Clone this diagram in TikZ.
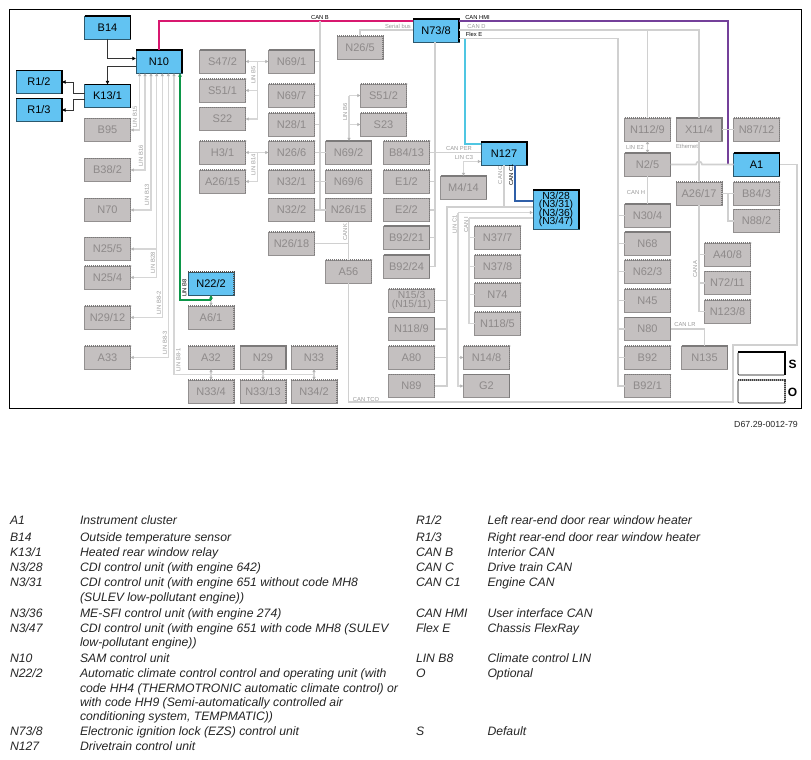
\documentclass[tikz,border=0pt]{standalone}
\usepackage{fontspec}
\setmainfont{Liberation Sans}
\usetikzlibrary{arrows.meta,calc}
\definecolor{gfill}{HTML}{C4C0C0}
\definecolor{gtext}{HTML}{8E8A8A}
\definecolor{gedge}{HTML}{7C7A7A}
\definecolor{bfill}{HTML}{62C3F2}
\definecolor{busc}{HTML}{D0D0D0}
\definecolor{linc}{HTML}{D6D6D6}
\definecolor{tipc}{HTML}{B4B4B4}
\definecolor{canb}{HTML}{D8186F}
\definecolor{canhmi}{HTML}{74409A}
\definecolor{flexe}{HTML}{4FC6E2}
\definecolor{canci}{HTML}{2F5FA8}
\definecolor{linb}{HTML}{0C9648}
\definecolor{labg}{HTML}{9A9A9A}
\newcommand{\tightlines}{\lineskiplimit=-20pt\relax\lineskip=0pt\relax}
\tikzset{
  unit/.style={minimum width=46pt,minimum height=23pt,inner sep=0pt,outer sep=0pt,align=center,font=\fontsize{11}{8.3}\selectfont},
  gbox/.style={unit,fill=gfill,draw=gfill!75!black,line width=.6pt,text=gtext},
  bbox/.style={unit,fill=bfill,draw=bfill!45!black,line width=.6pt,text=black},
  tightfont/.style={font=\fontsize{10.3}{8.4}\selectfont,execute at begin node=\tightlines},
  dotedge/.style={gedge,line width=1.1pt,dash pattern=on 1.2pt off .8pt},
  solidedge/.style={gedge,line width=1.3pt},
  blackedge/.style={black,line width=1.5pt},
  bus/.style={busc,line width=1.7pt},
  lin/.style={linc,line width=1.4pt},
  lintip/.style={lin,-{Latex[length=3.2pt,width=3.6pt,color=tipc]}},
  lintwo/.style={lin,{Latex[length=3.2pt,width=3.6pt,color=tipc]}-{Latex[length=3.2pt,width=3.6pt,color=tipc]}},
  ctl/.style={black!80,line width=1pt},
  ctltip/.style={ctl,-{Latex[length=3.6pt,width=4pt,color=black]}},
  lab/.style={font=\fontsize{5.8}{6}\selectfont,inner sep=0pt,outer sep=0pt},
  legendtext/.style={font=\fontsize{12.2}{12}\selectfont\itshape,anchor=base west,inner sep=0pt,outer sep=0pt,text=black!85}
}
\newcounter{lbc}
\newcommand{\gb}[4]{\node[gbox] (#1) at (#2,#3) {#4};
  \draw[dotedge] (#1.north west) -- (#1.north east) -- (#1.south east);}
\newcommand{\gs}[4]{\node[gbox] (#1) at (#2,#3) {#4};
  \draw[solidedge] (#1.north west) -- (#1.north east) -- (#1.south east);}
\newcommand{\bb}[4]{\node[bbox] (#1) at (#2,#3) {#4};
  \draw[blackedge] (#1.north west) -- (#1.north east) -- (#1.south east);}
\newcommand{\lb}[5][0]{\stepcounter{lbc}\node[lab,text=#2,rotate=#1] (lb\arabic{lbc}) at (#3,#4) {#5};}
\newcommand{\lgd}[3]{\stepcounter{lbc}\node[legendtext] (lb\arabic{lbc}) at (#1,#2) {#3};}
\begin{document}
\begin{tikzpicture}[x=1pt,y=-1pt]
\useasboundingbox (0,0) rectangle (811,760);
\fill[white] (0,0) rectangle (811,760);
\node[draw=black,line width=1pt,minimum width=791.5pt,minimum height=398.5pt,inner sep=0pt,outer sep=0pt] (frame) at (405.25,208.75) {};

% active units
\bb{B14}{107.5}{27.5}{B14}
\bb{N10}{159}{61.5}{N10}
\bb{K131}{107.5}{96}{K13/1}
\bb{R12}{39}{82}{R1/2}
\bb{R13}{39}{110}{R1/3}
\node[bbox] (N222) at (211,283.5) {N22/2};
\draw[black!70,line width=1.2pt,dash pattern=on 1.2pt off .8pt] (N222.north west) -- (N222.north east) -- (N222.south east);
\bb{N738}{436}{30.5}{N73/8}
\bb{N127}{504}{153.5}{N127}
\node[bbox,minimum height=39pt,tightfont] (N328) at (556,209.5) {N3/28\\(N3/31)\\(N3/36)\\(N3/47)};
\draw[blackedge] (N328.north west) -- (N328.north east) -- (N328.south east);
\bb{A1}{756.5}{164.5}{A1}

% inactive units
\gb{B95}{107.5}{130}{B95}
\gb{B382}{107.5}{170}{B38/2}
\gb{N70}{107.5}{210}{N70}
\gb{N255}{107.5}{249}{N25/5}
\gb{N254}{107.5}{277.5}{N25/4}
\gb{N2912}{107.5}{317.5}{N29/12}
\gb{A33}{107.5}{357.5}{A33}
\gb{A61}{211}{317.5}{A6/1}
\gb{A32}{211}{357.5}{A32}
\gb{N334}{211}{391.5}{N33/4}
\gs{N29}{263}{357.5}{N29}
\gb{N3313}{263}{391.5}{N33/13}
\gb{N33}{314}{357.5}{N33}
\gb{N342}{314}{391.5}{N34/2}
\gs{S472}{222.5}{61.5}{S47/2}
\gb{S511}{222.5}{90.5}{S51/1}
\gb{S22}{222.5}{119}{S22}
\gb{H31}{222.5}{152.5}{H3/1}
\gb{A2615}{222.5}{181.5}{A26/15}
\gs{N691}{291.5}{61.5}{N69/1}
\gb{N697}{291.5}{95.5}{N69/7}
\gb{N281}{291.5}{124.5}{N28/1}
\gb{N266}{291.5}{152.5}{N26/6}
\gb{N321}{291.5}{181.5}{N32/1}
\gb{N322}{291.5}{210}{N32/2}
\gb{N2618}{291.5}{243.5}{N26/18}
\gs{N692}{348.5}{152.5}{N69/2}
\gb{N696}{348.5}{181.5}{N69/6}
\gb{N2615}{348.5}{210}{N26/15}
\gb{A56}{348.5}{271.5}{A56}
\gb{N265}{360}{47.5}{N26/5}
\gb{S512}{383.5}{95.5}{S51/2}
\gb{S23}{383.5}{124.5}{S23}
\gb{B8413}{406.5}{152.5}{B84/13}
\gb{E12}{406.5}{181.5}{E1/2}
\gb{E22}{406.5}{210}{E2/2}
\gs{B9221}{406.5}{237.5}{B92/21}
\gs{B9224}{406.5}{266.5}{B92/24}
\gs{M414}{463.5}{187.5}{M4/14}
\node[gbox,tightfont] (N153) at (411.5,300.5) {N15/3\\(N15/11)};
\draw[dotedge] (N153.north west) -- (N153.north east) -- (N153.south east);
\gs{N1189}{411.5}{329}{N118/9}
\gb{A80}{411.5}{357.5}{A80}
\gb{N89}{411.5}{386}{N89}
\gb{N377}{497.5}{237.5}{N37/7}
\gb{N378}{497.5}{266.5}{N37/8}
\gb{N74}{497.5}{294.5}{N74}
\gb{N1185}{497.5}{323.5}{N118/5}
\gb{N148}{486.5}{357.5}{N14/8}
\gs{G2}{486.5}{386}{G2}
\gb{N1129}{647.5}{129.5}{N112/9}
\gs{X114}{699}{129.5}{X11/4}
\gb{N8712}{756.5}{129.5}{N87/12}
\gs{N25}{647.5}{164.5}{N2/5}
\gb{A2617}{699}{193.5}{A26/17}
\gb{B843}{756.5}{193.5}{B84/3}
\gb{N882}{756.5}{221}{N88/2}
\gs{N304}{647.5}{215.5}{N30/4}
\gs{N68}{647.5}{243.5}{N68}
\gb{N623}{647.5}{271.5}{N62/3}
\gb{N45}{647.5}{300.5}{N45}
\gs{N80}{647.5}{329}{N80}
\gb{B92}{647.5}{357.5}{B92}
\gb{B921}{647.5}{386}{B92/1}
\gb{A408}{727.5}{254.5}{A40/8}
\gb{N7211}{727.5}{283}{N72/11}
\gb{N1238}{727.5}{311.5}{N123/8}
\gs{N135}{704.5}{357.5}{N135}

% key boxes
\node[draw=black,line width=.6pt,minimum width=47pt,minimum height=23pt,inner sep=0pt,outer sep=0pt,rounded corners=1pt] (keyS) at (761.5,363.5) {};
\draw[black,line width=1.5pt] (keyS.north west) -- (keyS.north east) -- (keyS.south east);
\node[draw=black,line width=.6pt,minimum width=47pt,minimum height=23pt,inner sep=0pt,outer sep=0pt,rounded corners=1pt] (keyO) at (761.5,391.5) {};
\draw[black!75,line width=1.1pt,dash pattern=on 1.2pt off .8pt] (keyO.north west) -- (keyO.north east) -- (keyO.south east);
\node[font=\fontsize{12}{12}\selectfont\bfseries,inner sep=0pt] (keySt) at (792.5,364.5) {S};
\node[font=\fontsize{12}{12}\selectfont\bfseries,inner sep=0pt] (keyOt) at (792.5,392) {O};

% junction coordinates
\coordinate (busb) at (320,21);
\coordinate (bsh) at (257.5,61.5);
\coordinate (b6) at ($(N692.north)+(0.5,0)$);
\coordinate (busm) at ($(N738.south)+(-1,0)$);
\coordinate (busc) at (447,207);
\coordinate (linc1) at (458,212.5);
\coordinate (cani) at (469,218);
\coordinate (fx) at (618,38.5);
\coordinate (ca) at (699,250);

% LIN buses to N10
\coordinate (n1) at ([xshift=-19.5]N10.south);
\coordinate (n2) at ([xshift=-14]N10.south);
\coordinate (n3) at ([xshift=-8]N10.south);
\coordinate (n4) at ([xshift=-2.3]N10.south);
\coordinate (n5) at ([xshift=3.3]N10.south);
\coordinate (n6) at ([xshift=9.3]N10.south);
\coordinate (n7) at ([xshift=15]N10.south);
\draw[lintwo] (B95.east) -| (n1);
\draw[lintwo] (B382.east) -| (n2);
\draw[lintwo] (N70.east) -| (n3);
\draw[lintwo] (N254.east) -| (n4);
\draw[lintip] (N255.east -| n4) -- (N255.east);
\draw[lintwo] (N2912.east) -| (n5);
\draw[lintwo] (A33.east) -| (n6);
\coordinate (b81) at (174,374.5);
\draw[lintip] (b81) -- (n7);
\draw[lin] (b81) -- (N342.north |- b81);
\draw[lintwo] (A32.south) -- (N334.north);
\draw[lintwo] (N29.south) -- (N3313.north);
\draw[lintwo] (N33.south) -- (N342.north);
\draw[lintwo] (N222.south) -- (A61.north);

% climate LIN
\coordinate (gr) at ($(N222.south)+(0,5)$);
\draw[linb,line width=1.2pt,-{Latex[length=3.6pt,width=4pt,color=linb]}] (gr) -| ([xshift=21]N10.south);
\draw[linb,line width=1.2pt,-{Latex[length=3.6pt,width=4pt,color=linb]}] (gr) -- (N222.south);

% control wires
\draw[ctltip] (B14.south) |- ([yshift=3]N10.west);
\draw[ctltip] ([yshift=-5.5]N10.west) -| (K131.north);
\draw[ctltip] ([yshift=3]K131.west) -- (73,93) |- (R12.east);
\draw[ctltip] ([yshift=-3]K131.west) -- (73,99) |- (R13.east);

% coloured buses
\coordinate (hm) at (728,21);
\draw[canb,line width=1.6pt] (N10.north) |- (N738.west |- busb);
\draw[canhmi,line width=1.6pt] (N738.east |- busb) -- (hm) |- (A1.west);
\coordinate (cy) at (465,144);
\draw[flexe,line width=1.5pt] (N738.east |- fx) -| (cy) -- (N127.west |- cy);
\coordinate (cb) at (515,201);
\draw[canci,line width=1.8pt] ([xshift=11]N127.south) -- (cb) -- (N328.west |- cb);

% CAN B
\draw[bus] (busb) -- (320,210);
\foreach \u in {N691,N697,N281,N266,N321,N322} \draw[bus] (\u.east) -- (\u.east -| busb);
\foreach \u in {N692,N696,N2615} \draw[bus] (\u.west) -- (\u.west -| busb);
% LIN B5, B14, B6
\draw[lintwo] (S472.east) -- (N691.west);
\draw[lintip] (bsh) |- (S22.east);
\draw[lintip] (S511.east -| bsh) -- (S511.east);
\draw[lintwo] (H31.east) -- (N266.west);
\draw[lintip] (H31.east -| bsh) |- (A2615.east);
\draw[lintip] (S512.west -| b6) -- (S512.west);
\draw[lintip] (S23.west -| b6) -- (S23.west);
\draw[lintip] (S512.west -| b6) -- (b6);
% CAN K, TCO
\draw[bus] (N2615.south) -- (A56.north);
\draw[bus] (N2618.east) -- (N2618.east -| A56.north);
\coordinate (tco) at (733,402);
\coordinate (tcr) at (797,345);
\draw[bus] (A56.south) |- (tco) |- (tcr) |- (A1.east);
% serial bus
\coordinate (ser) at (360,30);
\draw[bus] (N265.north) -- (ser) -- (N738.west |- ser);
% N73/8 vertical
\draw[bus] (busm) |- (B9224.east);
\draw[bus] (B8413.east) -- (N127.west |- B8413.east);
\foreach \u in {E12,E22,B9221} \draw[bus] (\u.east) -- (\u.east -| busm);
% LIN C3
\draw[lintwo] (M414.north) |- ([yshift=-8]N127.west);
% CAN C
\draw[bus] (N127.south) -- (N127.south |- busc);
\draw[bus] (N89.east) -| (busc) -- (N328.west |- busc);
\foreach \u in {N153,N1189,A80} \draw[bus] (\u.east) -- (\u.east -| busc);
% LIN C1
\draw[lintip] (linc1) -- (N328.west |- linc1);
\draw[lintip] (linc1) |- (G2.west);
\draw[lintip] (N148.west -| linc1) -- (N148.west);
% CAN I
\draw[lin] (cani) -- (N328.west |- cani);
\draw[lin] (cani) |- (N1185.west);
\foreach \u in {N377,N378,N74} \draw[lin] (\u.west -| cani) -- (\u.west);

% right side
\coordinate (cd) at (699,30);
\draw[bus] (N738.east |- cd) -- (cd) -- (X114.north);
\draw[bus] (N1129.north) -- (N1129.north |- cd);
\draw[bus] (N738.east |- fx) -- (fx) |- (B921.west);
\foreach \u in {N304,N68,N623,N45,N80,B92} \draw[bus] (\u.west -| fx) -- (\u.west);
\draw[lintwo] (N1129.south) -- (N25.north);
\draw[bus] (N25.south) -- (N304.north);
\draw[bus] (N25.east) -- ($(X114.south |- N25.east)+(-3,0)$) arc[start angle=180,end angle=0,radius=3pt] -- (A1.west);
\draw[bus] (X114.south) -- (A2617.north);
\draw[bus] (N8712.west) -- (X114.east);
\draw[bus] (A2617.east) -- (B843.west);
\draw[bus] (hm |- B843.west) |- (N882.west);
\draw[bus] (A2617.south) |- (N1238.west);
\draw[bus] (A408.west -| ca) -- (A408.west);
\draw[bus] (N7211.west -| ca) -- (N7211.west);
\draw[bus] (N80.east) -| (N135.north);

% labels
\lb{black}{320}{17.5}{CAN B}
\lb{labg}{398}{26.3}{Serial bus}
\lb{black}{477.5}{17.5}{CAN HMI}
\lb{labg}{476.5}{26.3}{CAN D}
\lb{black}{474}{34.8}{Flex E}
\lb{labg}{459}{149}{CAN PER}
\lb{labg}{464}{157.5}{LIN C3}
\lb[90]{labg}{500}{175}{CAN C}
\lb[90]{black}{511}{175}{CAN C1}
\lb[90]{labg}{454.5}{224.5}{LIN C1}
\lb[90]{labg}{466}{224.5}{CAN I}
\lb[90]{labg}{253.5}{75}{LIN B5}
\lb[90]{labg}{253.5}{165}{LIN B14}
\lb[90]{labg}{345}{112}{LIN B6}
\lb[90]{labg}{345}{232}{CAN K}
\lb{labg}{366}{399}{CAN TCO}
\lb[90]{labg}{135}{117}{LIN B15}
\lb[90]{labg}{141}{156}{LIN B16}
\lb[90]{labg}{147}{195}{LIN B13}
\lb[90]{labg}{153}{263}{LIN B28}
\lb[90]{labg}{159}{303}{LIN B8-2}
\lb[90]{labg}{165}{343}{LIN B8-3}
\lb[90]{labg}{178.5}{360}{LIN B8-1}
\lb[90]{black}{184.5}{288}{LIN B8}
\lb{labg}{635}{147}{LIN E2}
\lb{labg}{687}{146}{Ethernet}
\lb{labg}{636}{193}{CAN H}
\lb[90]{labg}{695}{269}{CAN A}
\lb{labg}{685}{325}{CAN LR}
\node[font=\fontsize{8.8}{9}\selectfont,inner sep=0pt,text=black!85] (docno) at (766,424.5) {D67.29-0012-79};

% legend
\lgd{10}{524.5}{A1}\lgd{80}{524.5}{Instrument cluster}
\lgd{10}{541}{B14}\lgd{80}{541}{Outside temperature sensor}
\lgd{10}{556.5}{K13/1}\lgd{80}{556.5}{Heated rear window relay}
\lgd{10}{571}{N3/28}\lgd{80}{571}{CDI control unit (with engine 642)}
\lgd{10}{586.5}{N3/31}\lgd{80}{586.5}{CDI control unit (with engine 651 without code MH8}
\lgd{80}{601}{(SULEV low-pollutant engine))}
\lgd{10}{617}{N3/36}\lgd{80}{617}{ME-SFI control unit (with engine 274)}
\lgd{10}{632}{N3/47}\lgd{80}{632}{CDI control unit (with engine 651 with code MH8 (SULEV}
\lgd{80}{646.5}{low-pollutant engine))}
\lgd{10}{662}{N10}\lgd{80}{662}{SAM control unit}
\lgd{10}{677}{N22/2}\lgd{80}{677}{Automatic climate control control and operating unit (with}
\lgd{80}{692}{code HH4 (THERMOTRONIC automatic climate control) or}
\lgd{80}{706}{with code HH9 (Semi-automatically controlled air}
\lgd{80}{720.5}{conditioning system, TEMPMATIC))}
\lgd{10}{735}{N73/8}\lgd{80}{735}{Electronic ignition lock (EZS) control unit}
\lgd{10}{750.5}{N127}\lgd{80}{750.5}{Drivetrain control unit}
\lgd{416}{524.5}{R1/2}\lgd{487.5}{524.5}{Left rear-end door rear window heater}
\lgd{416}{541}{R1/3}\lgd{487.5}{541}{Right rear-end door rear window heater}
\lgd{416}{556.5}{CAN B}\lgd{487.5}{556.5}{Interior CAN}
\lgd{416}{571}{CAN C}\lgd{487.5}{571}{Drive train CAN}
\lgd{416}{586.5}{CAN C1}\lgd{487.5}{586.5}{Engine CAN}
\lgd{416}{617}{CAN HMI}\lgd{487.5}{617}{User interface CAN}
\lgd{416}{632}{Flex E}\lgd{487.5}{632}{Chassis FlexRay}
\lgd{416}{662}{LIN B8}\lgd{487.5}{662}{Climate control LIN}
\lgd{416}{677}{O}\lgd{487.5}{677}{Optional}
\lgd{416}{735}{S}\lgd{487.5}{735}{Default}
\end{tikzpicture}
\end{document}
